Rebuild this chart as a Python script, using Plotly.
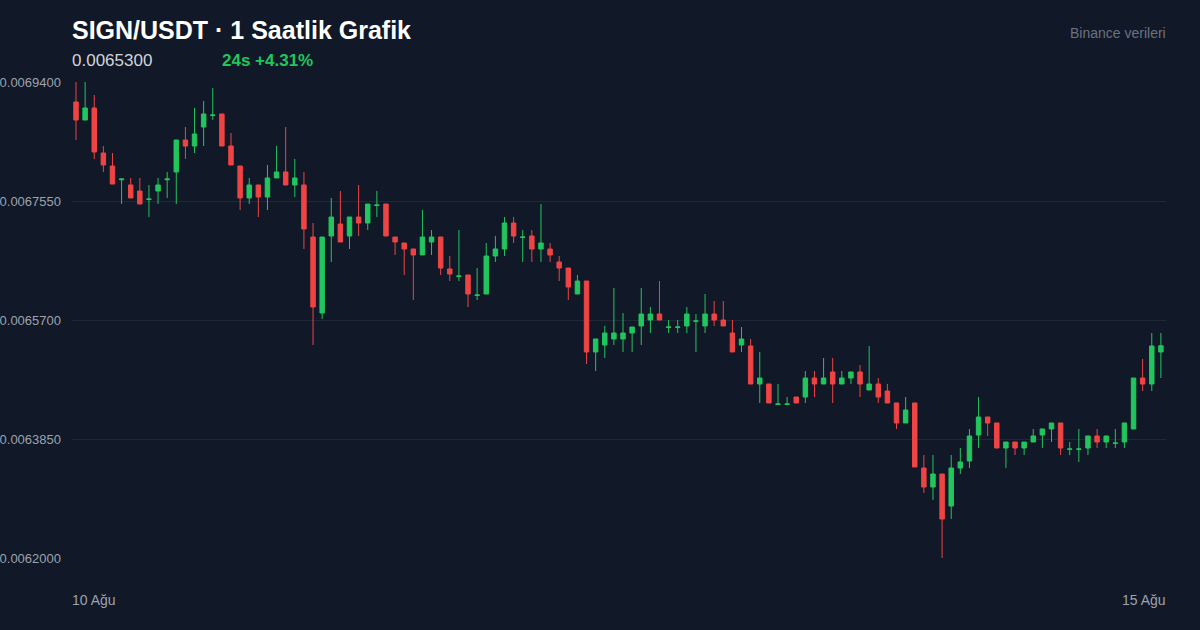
import plotly.graph_objects as go

opens = [0.0069089,0.0068809,0.0068996,0.0068296,0.0068094,0.0067880,0.0067799,0.0067705,0.0067575,0.0067705,
0.0067880,0.0068001,0.0068498,0.0068405,0.0068700,0.0068880,0.0068903,0.0068405,0.0068094,0.0067597,
0.0067799,0.0067612,0.0067908,0.0068001,0.0067799,0.0067799,0.0066990,0.0065809,0.0067006,0.0067192,
0.0067006,0.0067301,0.0067208,0.0067480,0.0067503,0.0066990,0.0066897,0.0066804,0.0066711,0.0066913,
0.0066990,0.0066493,0.0066378,0.0066400,0.0066083,0.0066104,0.0066695,0.0066804,0.0067208,0.0066984,
0.0067006,0.0066804,0.0066804,0.0066602,0.0066508,0.0066104,0.0066306,0.0065203,0.0065311,0.0065405,
0.0065405,0.0065498,0.0065607,0.0065700,0.0065793,0.0065585,0.0065585,0.0065607,0.0065680,0.0065607,
0.0065793,0.0065700,0.0065498,0.0065311,0.0065296,0.0064705,0.0064705,0.0064388,0.0064388,0.0064503,
0.0064503,0.0064798,0.0064705,0.0064892,0.0064705,0.0064798,0.0064892,0.0064612,0.0064705,0.0064596,
0.0064410,0.0064099,0.0064410,0.0063399,0.0063104,0.0063306,0.0062808,0.0063399,0.0063508,0.0063912,
0.0064192,0.0064099,0.0063710,0.0063803,0.0063710,0.0063803,0.0063912,0.0064006,0.0064099,0.0063690,
0.0063690,0.0063710,0.0063897,0.0063803,0.0063782,0.0063803,0.0064006,0.0064798,0.0064705,0.0065203]
highs = [0.0069400,0.0069400,0.0069198,0.0068405,0.0068296,0.0067892,0.0067908,0.0067908,0.0067799,0.0067908,
0.0068001,0.0068498,0.0068700,0.0068996,0.0069105,0.0069307,0.0068903,0.0068607,0.0068094,0.0067908,
0.0067799,0.0068110,0.0068405,0.0068700,0.0068203,0.0068001,0.0067208,0.0066990,0.0067597,0.0067705,
0.0067301,0.0067799,0.0067503,0.0067705,0.0067503,0.0066990,0.0066897,0.0066804,0.0067410,0.0067099,
0.0066990,0.0066695,0.0067099,0.0066400,0.0066508,0.0066897,0.0067006,0.0067301,0.0067301,0.0067099,
0.0067099,0.0067503,0.0066897,0.0066695,0.0066508,0.0066400,0.0066306,0.0065405,0.0065607,0.0066197,
0.0065809,0.0065591,0.0066197,0.0065902,0.0066306,0.0065700,0.0065700,0.0065902,0.0065793,0.0066104,
0.0065995,0.0065995,0.0065700,0.0065591,0.0065405,0.0065203,0.0064705,0.0064705,0.0064503,0.0064503,
0.0064907,0.0064907,0.0065109,0.0065109,0.0064907,0.0064892,0.0065000,0.0065296,0.0064798,0.0064705,
0.0064410,0.0064503,0.0064410,0.0063601,0.0063601,0.0063306,0.0063601,0.0063710,0.0064006,0.0064503,
0.0064192,0.0064099,0.0063803,0.0063803,0.0063803,0.0064006,0.0064006,0.0064099,0.0064099,0.0063803,
0.0064006,0.0063897,0.0064006,0.0063897,0.0064006,0.0064099,0.0064798,0.0065093,0.0065498,0.0065498]
lows = [0.0068498,0.0068809,0.0068203,0.0068001,0.0067814,0.0067503,0.0067597,0.0067503,0.0067301,0.0067503,
0.0067597,0.0067503,0.0068203,0.0068296,0.0068405,0.0068809,0.0068405,0.0068110,0.0067410,0.0067503,
0.0067301,0.0067410,0.0067908,0.0067799,0.0067612,0.0066804,0.0065311,0.0065716,0.0066602,0.0066913,
0.0066804,0.0067006,0.0067099,0.0067301,0.0067006,0.0066711,0.0066400,0.0066011,0.0066711,0.0066711,
0.0066400,0.0066306,0.0066306,0.0065902,0.0066011,0.0066104,0.0066602,0.0066695,0.0066897,0.0066602,
0.0066602,0.0066602,0.0066602,0.0066306,0.0066011,0.0066104,0.0065016,0.0064907,0.0065109,0.0065311,
0.0065203,0.0065203,0.0065311,0.0065498,0.0065700,0.0065498,0.0065498,0.0065498,0.0065203,0.0065498,
0.0065607,0.0065607,0.0065203,0.0065203,0.0064705,0.0064410,0.0064410,0.0064394,0.0064394,0.0064410,
0.0064410,0.0064503,0.0064705,0.0064410,0.0064705,0.0064705,0.0064503,0.0064612,0.0064410,0.0064410,
0.0064006,0.0064099,0.0063415,0.0063011,0.0062902,0.0062000,0.0062606,0.0063306,0.0063399,0.0063710,
0.0063897,0.0063710,0.0063399,0.0063601,0.0063601,0.0063803,0.0063710,0.0063803,0.0063601,0.0063601,
0.0063493,0.0063601,0.0063710,0.0063710,0.0063710,0.0063710,0.0064006,0.0064596,0.0064596,0.0064798]
closes = [0.0068809,0.0068996,0.0068312,0.0068110,0.0067814,0.0067892,0.0067597,0.0067503,0.0067581,0.0067799,
0.0067892,0.0068498,0.0068405,0.0068592,0.0068903,0.0068887,0.0068405,0.0068110,0.0067597,0.0067799,
0.0067612,0.0067908,0.0068001,0.0067799,0.0067908,0.0067115,0.0065902,0.0066990,0.0067301,0.0066913,
0.0067301,0.0067208,0.0067503,0.0067488,0.0067006,0.0066913,0.0066804,0.0066711,0.0066990,0.0066990,
0.0066508,0.0066415,0.0066384,0.0066104,0.0066089,0.0066695,0.0066804,0.0067208,0.0067006,0.0066990,
0.0066804,0.0066897,0.0066711,0.0066508,0.0066213,0.0066306,0.0065203,0.0065405,0.0065498,0.0065498,
0.0065498,0.0065591,0.0065793,0.0065793,0.0065700,0.0065591,0.0065591,0.0065793,0.0065685,0.0065793,
0.0065700,0.0065607,0.0065203,0.0065405,0.0064705,0.0064798,0.0064410,0.0064394,0.0064394,0.0064410,
0.0064798,0.0064705,0.0064798,0.0064705,0.0064798,0.0064892,0.0064705,0.0064705,0.0064503,0.0064410,
0.0064099,0.0064301,0.0063415,0.0063104,0.0063306,0.0062606,0.0063399,0.0063493,0.0063897,0.0064192,
0.0064099,0.0063710,0.0063803,0.0063710,0.0063803,0.0063897,0.0064006,0.0064099,0.0063710,0.0063695,
0.0063695,0.0063897,0.0063803,0.0063897,0.0063788,0.0064099,0.0064798,0.0064705,0.0065296,0.0065300]
y_ticks = [0.0062000, 0.0063850, 0.0065700, 0.0067550, 0.0069400]
date_labels = ["10 Ağu", "15 Ağu"]
title = "SIGN/USDT · 1 Saatlik Grafik"
last_price = "0.0065300"
change = "24s +4.31%"
source = "Binance verileri"

BG = "#111827"
GREEN = "#22c55e"
RED = "#ef4444"
FONT = "Liberation Sans, Arial, sans-serif"
x = list(range(len(opens)))

fig = go.Figure(go.Candlestick(
    x=x, open=opens, high=highs, low=lows, close=closes,
    increasing=dict(line=dict(color=GREEN, width=1), fillcolor=GREEN),
    decreasing=dict(line=dict(color=RED, width=1), fillcolor=RED),
    whiskerwidth=0, hoverinfo="skip",
))
fig.update_layout(
    width=1200, height=630, paper_bgcolor=BG, plot_bgcolor=BG,
    margin=dict(l=72, r=34, t=82, b=72, autoexpand=False), showlegend=False,
    font=dict(family=FONT, color="#9ca3af"),
    xaxis=dict(range=[-0.44, len(opens) - 0.44], showgrid=False, showticklabels=False,
               zeroline=False, rangeslider=dict(visible=False), fixedrange=True),
    yaxis=dict(range=[y_ticks[0], y_ticks[-1]], tickvals=y_ticks, automargin=False,
               ticktext=[f"{v:.7f}" for v in y_ticks], gridcolor="#1f2937",
               gridwidth=1, zeroline=False, showline=False,
               tickfont=dict(size=13, color="#9ca3af"), ticklabelstandoff=10),
)
ann = [
    dict(text=f"<b>{title}</b>", x=70, y=30, font=dict(size=25, color="#ffffff")),
    dict(text=last_price, x=70, y=61, font=dict(size=17, color="#d1d5db")),
    dict(text=f"<b>{change}</b>", x=220, y=61, font=dict(size=17, color=GREEN)),
    dict(text=source, x=1168, y=33, font=dict(size=14, color="#6b7280"), xanchor="right"),
    dict(text=date_labels[0], x=70, y=600, font=dict(size=14, color="#9ca3af")),
    dict(text=date_labels[1], x=1168, y=600, font=dict(size=14, color="#9ca3af"), xanchor="right"),
]
for a in ann:
    a.setdefault("xanchor", "left")
    fig.add_annotation(xref="paper", yref="paper", x=(a["x"] - 72) / 1094,
                       y=(630 - 72 - a["y"]) / 476, text=a["text"], font=a["font"],
                       xanchor=a["xanchor"], yanchor="middle", showarrow=False)
fig.write_html("out.html", config={"displayModeBar": False},
               post_script="document.body.style.margin='0';document.body.style.background='#111827';")
